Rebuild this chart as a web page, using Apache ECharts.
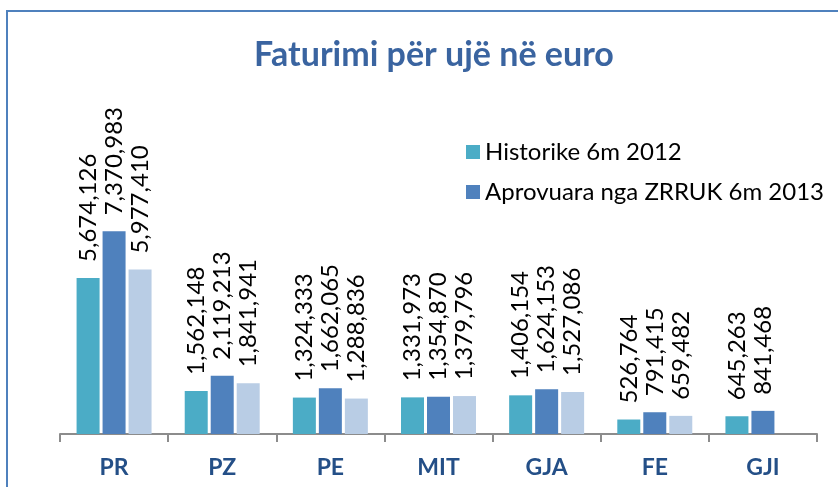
<!DOCTYPE html>
<html>
<head>
<meta charset="utf-8">
<script src="https://cdn.jsdelivr.net/npm/echarts@6/dist/echarts.min.js"></script>
<style>
  html, body { margin: 0; padding: 0; background: #fff; }
  #chart { width: 838px; height: 487px; }
</style>
</head>
<body>
<div id="chart"></div>
<script>
const categories = ['PR', 'PZ', 'PE', 'MIT', 'GJA', 'FE', 'GJI']
const historike2012 = [5674126, 1562148, 1324333, 1331973, 1406154, 526764, 645263]
const aprovuara2013 = [7370983, 2119213, 1662065, 1354870, 1624153, 791415, 841468]
const seria3 = [5977410, 1841941, 1288836, 1379796, 1527086, 659482, null]
const seriesNames = ['Historike 6m 2012', 'Aprovuara nga ZRRUK 6m 2013', 'Seria 3']
const colors = ['#4bacc6', '#4f81bd', '#b9cde5']

const fmt = v => v.toLocaleString('en-US')

const labelOpt = {
  show: true,
  position: 'top',
  rotate: 90,
  align: 'left',
  verticalAlign: 'middle',
  distance: 16,
  fontFamily: 'Lato',
  fontSize: 24,
  color: '#000',
  formatter: p => fmt(p.value)
}

const chart = echarts.init(document.getElementById('chart'), null, { renderer: 'canvas' })

chart.setOption({
  animation: false,
  title: {
    text: 'Faturimi për ujë në euro',
    left: 429,
    textAlign: 'center',
    top: 33,
    textStyle: { fontFamily: 'Lato', fontWeight: 'bold', fontSize: 34, color: '#3a64a0' }
  },
  legend: {
    data: seriesNames.slice(0, 2),
    orient: 'vertical',
    left: 461,
    top: 135,
    itemWidth: 14,
    itemHeight: 14,
    itemGap: 16,
    icon: 'rect',
    textStyle: { fontFamily: 'Lato', fontSize: 24, color: '#000' }
  },
  grid: { left: 60, right: 21, top: 214, bottom: 53, containLabel: false },
  xAxis: {
    type: 'category',
    data: categories,
    axisLine: { lineStyle: { color: '#8c8c8c', width: 2 } },
    axisTick: { show: true, length: 8, lineStyle: { color: '#8c8c8c', width: 2 } },
    axisLabel: { margin: 22, fontFamily: 'Lato', fontWeight: 'bold', fontSize: 23, color: '#244f87' }
  },
  yAxis: {
    type: 'value',
    min: 0,
    max: 8000000,
    show: false,
    splitLine: { show: false }
  },
  graphic: [{
    type: 'rect',
    shape: { x: 7, y: 11, width: 900, height: 600 },
    style: { fill: 'none', stroke: '#4f81bd', lineWidth: 2 },
    silent: true
  }],
  series: [historike2012, aprovuara2013, seria3].map((d, i) => ({
    name: seriesNames[i],
    type: 'bar',
    data: d,
    barWidth: 23,
    barGap: '13%',
    itemStyle: { color: colors[i] },
    label: labelOpt
  }))
})
</script>
</body>
</html>
